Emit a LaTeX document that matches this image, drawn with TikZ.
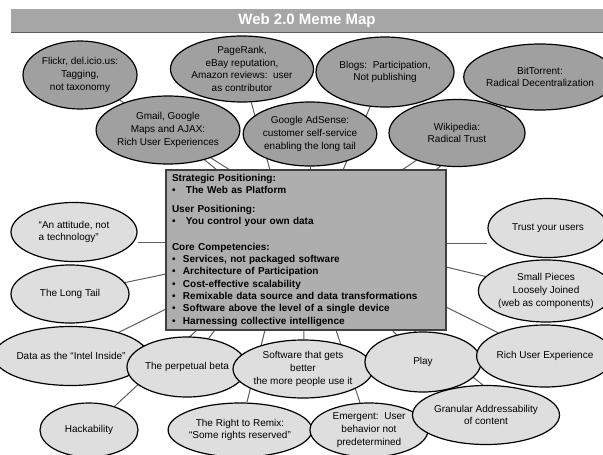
\documentclass[tikz,border=0pt]{standalone}
\usepackage{fontspec}
\setmainfont{Liberation Sans}
\usetikzlibrary{shapes.geometric,backgrounds}

\definecolor{bargray}{HTML}{A6A6A6}
\definecolor{darkfill}{HTML}{A0A0A0}
\definecolor{lightfill}{HTML}{DEDEDE}
\definecolor{boxgray}{HTML}{AEAEAE}
\definecolor{linkgray}{HTML}{5E5E5E}

\newcommand{\memedot}[1]{\makebox[#1][l]{\textbullet}}

\begin{document}
\begin{tikzpicture}[x=1pt,y=-1pt,
    meme/.style 2 args={ellipse, draw=black, line width=1.2pt, inner sep=0pt,
      minimum width=#1pt, minimum height=#2pt, align=center,
      font=\fontsize{10}{12.7}\selectfont},
    darkmeme/.style 2 args={meme={#1}{#2}, fill=darkfill},
    lightmeme/.style 2 args={meme={#1}{#2}, fill=lightfill}]

        \useasboundingbox (0,0) rectangle (603,455);

        \node[fill=bargray, minimum width=592pt, minimum height=23pt, inner sep=0pt,
              text=white, font=\fontsize{15}{18}\selectfont\bfseries] (title) at (307,20.5) {Web 2.0 Meme Map};
        \draw[linkgray, line width=0.8pt] (title.south west) -- (title.south east);

        \node[draw=black!75, line width=1.5pt, fill=boxgray, inner sep=0pt,
              minimum width=280pt, minimum height=160pt, text width=268pt, align=left,
              font=\fontsize{10}{12.3}\selectfont\bfseries] (core) at (306,250) {%
          Strategic Positioning:\\
          \memedot{14pt}The Web as Platform\\[7pt]
          User Positioning:\\
          \memedot{14pt}You control your own data\\[13pt]
          Core Competencies:\\
          \memedot{11pt}Services, not packaged software\\
          \memedot{11pt}Architecture of Participation\\
          \memedot{11pt}Cost-effective scalability\\
          \memedot{11pt}Remixable data source and data transformations\\
          \memedot{11pt}Software above the level of a single device\\
          \memedot{11pt}Harnessing collective intelligence};

        % upper ring
        \node[darkmeme={114}{68}]  (flickr) at (80,75)   {Flickr, del.icio.us:\\Tagging,\\not taxonomy};
        \node[darkmeme={132}{66}]  (page)   at (242,69)  {PageRank,\\eBay reputation,\\Amazon reviews:\ \ user\\as contributor};
        \node[darkmeme={138}{70}]  (blogs)  at (385,72)  {Blogs:\ \ Participation,\\Not publishing};
        \node[darkmeme={124}{66}]  (bit)    at (540,77)  {BitTorrent:\\Radical Decentralization};
        \node[darkmeme={128}{68}]  (gmail)  at (168,130) {Gmail, Google\\Maps and AJAX:\\Rich User Experiences};
        \node[darkmeme={128}{64}]  (ads)    at (310,134) {Google AdSense:\\customer self-service\\enabling the long tail};
        \node[darkmeme={136}{67}]  (wiki)   at (457,133) {Wikipedia:\\Radical Trust};

        % lower ring
        \node[lightmeme={126}{59}, align=left] (att) at (74,232) {``An attitude, not\\a technology''};
        \node[lightmeme={118}{58}] (long)   at (70,294)  {The Long Tail};
        \node[lightmeme={118}{59}] (data)   at (71,356)  {Data as the ``Intel Inside''};
        \node[lightmeme={120}{60}] (beta)   at (187,367) {The perpetual beta};
        \node[lightmeme={98}{54}]  (hack)   at (89,430)  {Hackability};
        \node[lightmeme={114}{54}] (remix)  at (240,430) {The Right to Remix:\\``Some rights reserved''};
        \node[lightmeme={116}{58}] (soft)   at (303,369) {Software that gets\\better\\the more people use it};
        \node[lightmeme={118}{54}] (emerg)  at (369,430) {Emergent:\ \ User\\behavior not\\predetermined};
        \node[lightmeme={116}{60}] (play)   at (423,362) {Play};
        \node[lightmeme={114}{59}] (gran)   at (486,415) {Granular Addressability\\of content};
        \node[lightmeme={120}{59}] (trust)  at (548,228) {Trust your users};
        \node[lightmeme={116}{62}] (small)  at (546,291) {Small Pieces\\Loosely Joined\\(web as components)};
        \node[lightmeme={120}{62}] (rich)   at (545,356) {Rich User Experience};

        \coordinate (p-flickr) at (230,170);
        \coordinate (p-gmail)  at (217,170);
        \coordinate (p-page)   at (270,170);
        \coordinate (p-ads)    at (310,170);
        \coordinate (p-blogs)  at (343,170);
        \coordinate (p-wiki)   at (402,170);
        \coordinate (p-bit)    at (436,170);
        \coordinate (p-att)    at (166,242);
        \coordinate (p-long)   at (166,274);
        \coordinate (p-data)   at (166,309);
        \coordinate (p-hack)   at (197,330);
        \coordinate (p-beta)   at (215,330);
        \coordinate (p-remix)  at (265,330);
        \coordinate (p-soft)   at (304,330);
        \coordinate (p-emerg)  at (336,330);
        \coordinate (p-play)   at (392,330);
        \coordinate (p-gran)   at (413,330);
        \coordinate (p-trust)  at (446,243);
        \coordinate (p-small)  at (446,267);
        \coordinate (p-rich)   at (446,307);

        \begin{pgfonlayer}{background}
          \fill[white] (0,0) rectangle (603,455);
          \begin{scope}[every edge/.style={draw=linkgray, line width=1pt}]
            \path (flickr) edge (p-flickr);
            \path (gmail)  edge (p-gmail);
            \path (page)   edge (p-page);
            \path (ads)    edge (p-ads);
            \path (blogs)  edge (p-blogs);
            \path (wiki)   edge (p-wiki);
            \path (bit)    edge (p-bit);
            \path (p-att)  edge (p-att -| att.east);
            \path (long)   edge (p-long);
            \path (data)   edge (p-data);
            \path (hack)   edge (p-hack);
            \path (beta)   edge (p-beta);
            \path (remix)  edge (p-remix);
            \path (soft)   edge (p-soft);
            \path (emerg)  edge (p-emerg);
            \path (play)   edge (p-play);
            \path (gran.96) edge (p-gran);
            \path (p-trust) edge (p-trust -| trust.west);
            \path (small)  edge (p-small);
            \path (rich)   edge (p-rich);
          \end{scope}
        \end{pgfonlayer}

      \end{tikzpicture}
\end{document}
